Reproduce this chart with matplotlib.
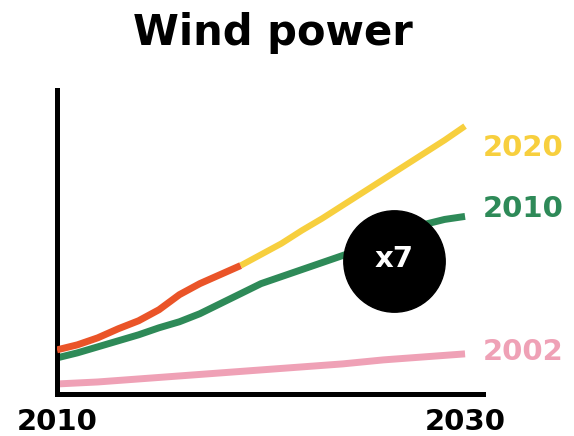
import matplotlib.pyplot as plt

# installed wind capacity (index units) — actual track and three outlook vintages
years_actual = [2010, 2011, 2012, 2013, 2014, 2015, 2016, 2017, 2018, 2019]
actual = [4.4, 4.9, 5.6, 6.5, 7.3, 8.4, 9.9, 11.0, 11.9, 12.8]

years_2020 = [2019, 2020, 2021, 2022, 2023, 2024, 2025, 2026, 2027, 2028, 2029, 2030]
outlook_2020 = [12.8, 13.9, 15.0, 16.3, 17.5, 18.8, 20.1, 21.4, 22.7, 24.0, 25.3, 26.7]

years_2010 = list(range(2010, 2031))
outlook_2010 = [3.6, 4.1, 4.7, 5.3, 5.9, 6.6, 7.2, 8.0, 9.0, 10.0, 11.0,
                11.7, 12.4, 13.1, 13.8, 14.5, 15.3, 16.1, 16.9, 17.4, 17.7]

years_2002 = [2010, 2012, 2014, 2016, 2018, 2020, 2022, 2024, 2026, 2028, 2030]
outlook_2002 = [1.0, 1.2, 1.5, 1.8, 2.1, 2.4, 2.7, 3.0, 3.4, 3.7, 4.0]

label_years = ['2020', '2010', '2002']
label_values = [24.5, 18.4, 4.2]
tick_years = [2010, 2030]
ratio_text = 'x7'

RED = '#EA5428'
YELLOW = '#F7CF3E'
GREEN = '#2E8A58'
PINK = '#EFA1B6'

fig = plt.figure(figsize=(5.74, 4.36), dpi=100)
ax = fig.add_axes([57 / 574, 42 / 436, 426 / 574, 304 / 436])

ax.plot(years_2002, outlook_2002, color=PINK, lw=5, solid_capstyle='butt', zorder=2)
ax.plot(years_2010, outlook_2010, color=GREEN, lw=5, solid_capstyle='butt', zorder=2)
ax.plot(years_2020, outlook_2020, color=YELLOW, lw=4.5, solid_capstyle='butt', zorder=3)
ax.plot(years_actual, actual, color=RED, lw=5, solid_capstyle='butt', zorder=4)

# growth badge sitting on the 2010 outlook
ax.plot(2026.5, 13.3, 'o', ms=73, color='black', zorder=5, clip_on=False)
ax.text(2026.5, 13.5, ratio_text, color='white', fontsize=21, weight='bold',
        ha='center', va='center', zorder=6)

for lab, val, col in zip(label_years, label_values, [YELLOW, GREEN, PINK]):
    ax.text(2030.85, val, lab, color=col, fontsize=21, weight='bold',
            ha='left', va='center', clip_on=False)

ax.set_xlim(2010, 2030.88)
ax.set_ylim(0, 30.3)

for side in ['top', 'right']:
    ax.spines[side].set_visible(False)
for side in ['left', 'bottom']:
    ax.spines[side].set_linewidth(3.6)
    ax.spines[side].set_capstyle('projecting')

ax.set_yticks([])
ax.set_xticks(tick_years)
ax.set_xticklabels([str(t) for t in tick_years], fontsize=21, weight='bold')
ax.tick_params(axis='x', length=0, pad=10)

fig.text(273 / 574, 1 - 33 / 436, 'Wind power', ha='center', va='center',
         fontsize=30, weight='bold')

fig.savefig('out.png', dpi=100)
